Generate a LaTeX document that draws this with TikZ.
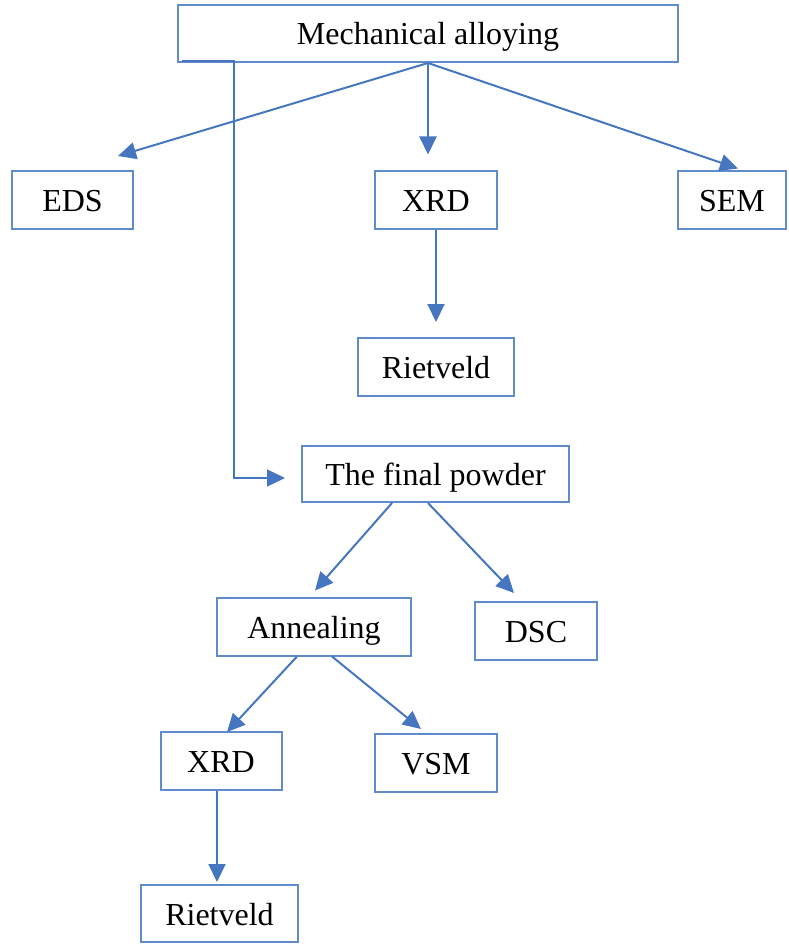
\documentclass[tikz,border=0pt]{standalone}
\usepackage{fontspec}
\setmainfont{Liberation Serif}
\usetikzlibrary{arrows.meta,calc}
\definecolor{boxblue}{RGB}{96,140,204}
\definecolor{arrowblue}{RGB}{70,118,192}
\tikzset{
  box/.style={draw=boxblue, line width=2pt, inner sep=0pt, rectangle,
    font=\fontsize{32}{36}\selectfont, text=black,
    text height=23pt, text depth=0pt},
  arr/.style={draw=arrowblue, line width=2pt,
    -{Triangle[length=18pt,width=17pt]}},
  thinarr/.style={draw=arrowblue, line width=1.3pt,
    -{Triangle[length=18pt,width=17pt]}}
}
\begin{document}
\begin{tikzpicture}[x=1pt,y=-1pt]
\useasboundingbox (0,0) rectangle (788,944);

% boxes
\node[box, minimum width=500pt, minimum height=57pt] (ma)    at (428,33.5)  {Mechanical alloying};
\node[box, minimum width=121pt, minimum height=58pt] (eds)   at (72.5,200)  {EDS};
\node[box, minimum width=122pt, minimum height=57pt] (xrdA)  at (436,200)   {XRD};
\node[box, minimum width=108pt, minimum height=57pt] (sem)   at (732,200)   {SEM};
\node[box, minimum width=156pt, minimum height=58pt] (rietA) at (436,367)   {Rietveld};
\node[box, minimum width=267pt, minimum height=56pt] (fp)    at (435.5,474) {The final powder};
\node[box, minimum width=194pt, minimum height=58pt] (ann)   at (314,626.5) {Annealing};
\node[box, minimum width=122pt, minimum height=58pt] (dsc)   at (536,631)   {DSC};
\node[box, minimum width=121pt, minimum height=58pt] (xrdB)  at (221,761)   {XRD};
\node[box, minimum width=122pt, minimum height=58pt] (vsm)   at (436,763)   {VSM};
\node[box, minimum width=157pt, minimum height=57pt] (rietB) at (219.5,913.5) {Rietveld};

% branches from mechanical alloying
\draw[arr] (ma.south) -- ($(eds.north)+(45.5,-14)$);
\draw[arr] (ma.south) -- ($(xrdA.north)+(-8,-16)$);
\draw[arr] (ma.south) -- ($(sem.north)+(6,-2)$);
\draw[arr] (xrdA.south) -- ($(rietA.north)+(0,-15)$);

% path to the final powder
\coordinate (start) at ($(ma.south west)+(5,-2)$);
\draw[thinarr] (start) -- ($(start)+(52,0)$) |- ($(fp.west)+(-16,4)$);

% branches from the final powder
\draw[arr] ($(fp.south)+(-43.5,0)$) -- ($(ann.north)+(1,-6)$);
\draw[arr] ($(fp.south)+(-7.5,0)$) -- ($(dsc.north)+(-22,-8)$);

% branches from annealing
\draw[arr] ($(ann.south)+(-17,0)$) -- ($(xrdB.north)+(6,1)$);
\draw[arr] ($(ann.south)+(18,0)$) -- ($(vsm.north)+(-15,-4)$);
\draw[arr] ($(xrdB.south)+(-4,0)$) -- ($(rietB.north)+(-2.5,-2)$);
\end{tikzpicture}
\end{document}
